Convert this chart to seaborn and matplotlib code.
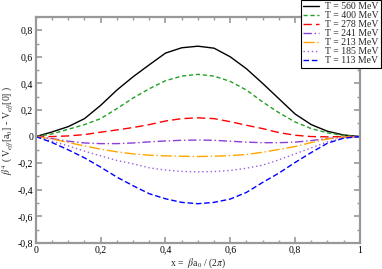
import numpy as np
import pandas as pd
import matplotlib
matplotlib.use('Agg')
import matplotlib.pyplot as plt
import seaborn as sns
from matplotlib.ticker import MultipleLocator, FuncFormatter

# values, x = beta a0 / (2 pi)
x = [0, 0.05, 0.1, 0.15, 0.2, 0.25, 0.3, 0.35, 0.4, 0.45, 0.5,
     0.55, 0.6, 0.65, 0.7, 0.75, 0.8, 0.85, 0.9, 0.95, 1]
t560 = [0, 0.035, 0.075, 0.135, 0.235, 0.35, 0.45, 0.54, 0.628, 0.668, 0.68,
        0.665, 0.6, 0.51, 0.40, 0.285, 0.17, 0.09, 0.04, 0.012, 0]
t400 = [0, 0.02, 0.055, 0.09, 0.135, 0.21, 0.29, 0.36, 0.42, 0.455, 0.468,
        0.455, 0.415, 0.35, 0.26, 0.18, 0.11, 0.06, 0.028, 0.008, 0]
t278 = [0, 0.0, 0.005, 0.015, 0.033, 0.05, 0.068, 0.09, 0.117, 0.135, 0.141,
        0.135, 0.112, 0.085, 0.06, 0.03, 0.01, 0.0, -0.002, 0, 0]
t241 = [0, -0.015, -0.035, -0.048, -0.053, -0.053, -0.048, -0.04, -0.033, -0.028, -0.026,
        -0.028, -0.035, -0.042, -0.046, -0.046, -0.042, -0.03, -0.015, -0.004, 0]
t213 = [0, -0.018, -0.045, -0.07, -0.095, -0.115, -0.13, -0.14, -0.145, -0.148, -0.15,
        -0.148, -0.143, -0.135, -0.118, -0.097, -0.075, -0.045, -0.018, -0.004, 0]
t185 = [0, -0.035, -0.07, -0.11, -0.145, -0.18, -0.205, -0.235, -0.252, -0.262, -0.265,
        -0.263, -0.255, -0.238, -0.215, -0.175, -0.13, -0.085, -0.04, -0.01, 0]
t113 = [0, -0.045, -0.1, -0.16, -0.23, -0.305, -0.37, -0.43, -0.468, -0.495, -0.505,
        -0.495, -0.47, -0.42, -0.345, -0.275, -0.195, -0.12, -0.05, -0.012, 0]

labels = ['T = 560 MeV', 'T = 400 MeV', 'T = 278 MeV', 'T = 241 MeV',
          'T = 213 MeV', 'T = 185 MeV', 'T = 113 MeV']
series = [t560, t400, t278, t241, t213, t185, t113]
colors = ['black', '#22a022', '#ff0000', '#8a3fd8', '#ffa500', '#9a5ee0', '#0000ff']
styles = ['-', (0, (3, 2)), (0, (6, 3)), (0, (6, 2, 1, 2)), (0, (8, 2, 1, 2)),
          (0, (1, 2)), (0, (4, 2))]

sns.set_style('ticks')
plt.rcParams['font.family'] = ['Liberation Serif', 'DejaVu Serif']
plt.rcParams['mathtext.fontset'] = 'stix'

fig = plt.figure(figsize=(3.82, 2.69), dpi=100)
ax = fig.add_axes([0.094, 0.097, 0.848, 0.84])

for lab, y, c, ls in zip(labels, series, colors, styles):
    df = pd.DataFrame({'x': x, 'y': y})
    sns.lineplot(data=df, x='x', y='y', ax=ax, color=c, linestyle=ls,
                 linewidth=1.0, label=lab)

ax.set_xlim(0, 1)
ax.set_ylim(-0.8, 0.9)
ax.xaxis.set_major_locator(MultipleLocator(0.2))
ax.xaxis.set_minor_locator(MultipleLocator(0.05))
ax.yaxis.set_major_locator(MultipleLocator(0.2))
ax.yaxis.set_minor_locator(MultipleLocator(0.1))
ax.set_yticks(np.arange(-0.8, 0.81, 0.2))

def fmt(v, pos):
    s = ('%.1f' % v).rstrip('0').rstrip('.')
    if s in ('-0', ''):
        s = '0'
    return s.replace('.', ',')

ax.xaxis.set_major_formatter(FuncFormatter(fmt))
ax.yaxis.set_major_formatter(FuncFormatter(fmt))

for side in ax.spines.values():
    side.set_color('#999999')
    side.set_linewidth(1.6)
ax.tick_params(which='both', direction='in', top=True, right=True,
               colors='#999999', labelcolor='black', labelsize=7, pad=2)
ax.tick_params(which='major', length=4, width=1.2)
ax.tick_params(which='minor', length=2, width=1.0)

ax.set_xlabel(r'x =  $\beta$a$_0$ / (2$\pi$)', fontsize=7, labelpad=1)
ax.set_ylabel(r'$\beta^4$ ( V$_{eff}$[a$_0$] - V$_{eff}$[0] )', fontsize=7, labelpad=2)

leg = ax.legend(loc='upper right', bbox_to_anchor=(0.997, 1.0),
                bbox_transform=fig.transFigure, fontsize=7,
                frameon=True, fancybox=False, framealpha=1, edgecolor='black',
                handlelength=1.6, labelspacing=0.0, borderpad=0.25,
                handletextpad=0.6, borderaxespad=0)
leg.get_frame().set_linewidth(0.8)

fig.savefig('out.png', dpi=100)
